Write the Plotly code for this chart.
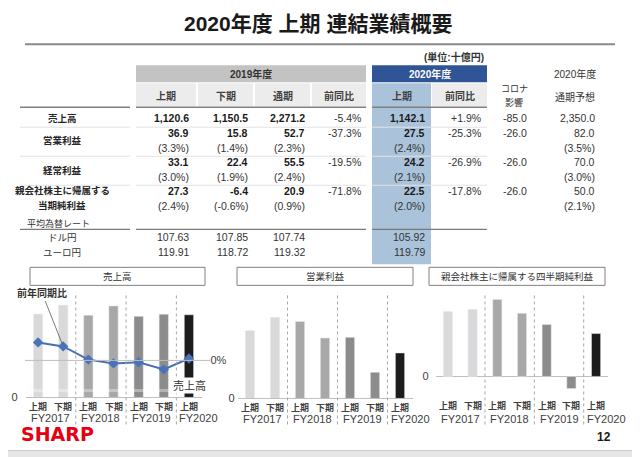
import plotly.graph_objects as go

# ---------------------------------------------------------------
# 表データ (単位: 十億円)
# ---------------------------------------------------------------
items = ["売上高", "営業利益", "経常利益", "親会社株主に帰属する<br>当期純利益"]
h1_2019 = [1120.6, 36.9, 33.1, 27.3]
h2_2019 = [1150.5, 15.8, 22.4, -6.4]
fy_2019 = [2271.2, 52.7, 55.5, 20.9]
yoy_2019 = [-5.4, -37.3, -19.5, -71.8]
h1_2020 = [1142.1, 27.5, 24.2, 22.5]
yoy_2020 = [1.9, -25.3, -26.9, -17.8]
corona = [-85.0, -26.0, -26.0, -26.0]
forecast_2020 = [2350.0, 82.0, 70.0, 50.0]

# 売上高比率 (%)
margin_h1_2019 = [None, 3.3, 3.0, 2.4]
margin_h2_2019 = [None, 1.4, 1.9, -0.6]
margin_fy_2019 = [None, 2.3, 2.4, 0.9]
margin_h1_2020 = [None, 2.4, 2.1, 2.0]
margin_forecast = [None, 3.5, 3.0, 2.1]

# 平均為替レート
fx_labels = ["ドル円", "ユーロ円"]
fx_h1_2019 = [107.63, 119.91]
fx_h2_2019 = [107.85, 118.72]
fx_fy_2019 = [107.74, 119.32]
fx_h1_2020 = [105.92, 119.79]

header_2019 = ["上期", "下期", "通期", "前同比"]
header_2020 = ["上期", "前同比"]

# ---------------------------------------------------------------
# グラフデータ (半期推移)
# ---------------------------------------------------------------
fiscal_years = ["FY2017", "FY2017", "FY2018", "FY2018", "FY2019", "FY2019", "FY2020"]
periods = ["上期", "下期", "上期", "下期", "上期", "下期", "上期"]
sales = [1151.3, 1275.9, 1136.5, 1264.3, 1120.6, 1150.5, 1142.1]
sales_yoy = [18.0, 14.0, 0.8, -3.0, -1.8, -9.0, 1.9]
op_profit = [41.0, 49.0, 46.5, 36.5, 36.9, 15.8, 27.5]
net_profit = [34.1, 35.2, 40.4, 33.1, 27.3, -6.4, 22.5]

# ---------------------------------------------------------------
# ページ余白(8px)と縦方向の縮尺を補正した図のサイズ
OFF = 8
SY = 0.986
W, H = 640 - OFF, 456
JP = "Liberation Sans, Noto Sans CJK JP"
fy_colors = {"FY2017": "#d9d9d9", "FY2018": "#a8a8a8", "FY2019": "#8c8c8c", "FY2020": "#1c1c1c"}


# 画面上のピクセル位置 -> paper 座標
def px(x):
    return (x - OFF) / W


def py(y):
    return 1 - (y / SY - OFF) / H


anns = []
shapes = []


def text(x, y, s, size=10, bold=False, color="#262626", xanchor="center", **kw):
    if bold:
        s = f"<b>{s}</b>"
    anns.append(dict(x=px(x), y=py(y), xref="paper", yref="paper", text=s, showarrow=False,
                     xanchor=xanchor, yanchor="middle",
                     font=dict(size=size, family=JP, color=color), **kw))


def rect(x0, y0, x1, y1, fill, line=None):
    shapes.append(dict(type="rect", xref="paper", yref="paper", x0=px(x0), x1=px(x1),
                       y0=py(y0), y1=py(y1), fillcolor=fill, layer="below",
                       line=dict(width=1 if line else 0, color=line or fill)))


def hline(x0, x1, y, color, width=1, dash="solid"):
    shapes.append(dict(type="line", xref="paper", yref="paper", x0=px(x0), x1=px(x1),
                       y0=py(y), y1=py(y), line=dict(color=color, width=width, dash=dash)))


# スライド背景
rect(2, 2, 637, 450, "white", "#c8c8c8")

# タイトル
text(318, 23, "2020年度 上期 連結業績概要", size=21, bold=True, color="#1a1a1a")
hline(25, 615, 44, "#8a8a8a", 2)
text(454, 57, "(単位:十億円)", size=10, bold=True, color="#333333")

# ---------------------------------------------------------------
# 表: ヘッダー
# ---------------------------------------------------------------
rect(136, 65, 366, 82, "#c3c3c3")
text(251, 74, "2019年度", size=10, bold=True, color="#333333")
sub_cells = [(136, 196), (198, 253), (255, 310), (312, 366)]
for (a, b), h in zip(sub_cells, header_2019):
    rect(a, 83, b, 106, "#ececec")
    text((a + b) / 2, 96, h, size=10, bold=True, color="#404040")

rect(372, 83, 431, 264, "#aac3da")
rect(432, 83, 487, 106, "#ececec")
rect(372, 65, 487, 82, "#2f5597")
text(430, 74, "2020年度", size=10, bold=True, color="white")
for (a, b), h in zip([(372, 431), (432, 487)], header_2020):
    text((a + b) / 2, 96, h, size=10, bold=True, color="#404040")

text(514, 89, "コロナ", size=9, color="#333333")
text(514, 102, "影響", size=9, color="#333333")
text(575, 74, "2020年度", size=10, color="#333333")
text(575, 97, "通期予想", size=10, color="#333333")

for a, b in [(20, 130), (136, 366), (372, 487)]:
    hline(a, b, 107, "#808080", 1.5)

# ---------------------------------------------------------------
# 表: 本体
# ---------------------------------------------------------------
value_y = [118, 133, 162, 191]
margin_y = [None, 148, 177, 206]
label_y = [[118], [140], [170], [190, 205]]
col_right = [191, 250, 307, 363, 427, 483, 529, 597]


def amt(v):
    return f"{v:,.1f}"


def pct(v):
    return f"{v:+.1f}%"


columns = [
    (h1_2019, margin_h1_2019, amt, True),
    (h2_2019, margin_h2_2019, amt, True),
    (fy_2019, margin_fy_2019, amt, True),
    (yoy_2019, None, pct, False),
    (h1_2020, margin_h1_2020, amt, True),
    (yoy_2020, None, pct, False),
    (corona, None, amt, False),
    (forecast_2020, margin_forecast, amt, False),
]

for i, item in enumerate(items):
    for line, ly in zip(item.split("<br>"), label_y[i]):
        text(62, ly, line, size=9.5, bold=True, color="#262626")
    for (vals, margins, f, bold), xr in zip(columns, col_right):
        text(xr, value_y[i], f(vals[i]), size=10.5, bold=bold,
             color="#1a1a1a" if bold else "#333333", xanchor="right")
        if margins is not None and margins[i] is not None:
            text(xr, margin_y[i], f"({margins[i]:.1f}%)", size=10.5, color="#333333", xanchor="right")

for y in [127, 156, 185]:
    for a, b in [(20, 130), (136, 366), (372, 487)]:
        hline(a, b, y, "#e2e2e2", 1)

# 為替レート
text(58, 223, "平均為替レート", size=9, color="#333333")
for a, b in [(20, 130), (136, 366), (372, 487)]:
    hline(a, b, 229, "#7a7a7a", 1.2)
fx_y = [237, 252]
for j, lab in enumerate(fx_labels):
    text(62, fx_y[j], lab, size=9.5, color="#333333")
    for vals, xr in zip([fx_h1_2019, fx_h2_2019, fx_fy_2019, fx_h1_2020], [191, 250, 307, 427]):
        text(xr, fx_y[j], f"{vals[j]:.2f}", size=10.5, color="#333333", xanchor="right")

# ---------------------------------------------------------------
# グラフ
# ---------------------------------------------------------------
cats = [f"{fy} {p}" for fy, p in zip(fiscal_years, periods)]
bar_colors = [fy_colors[fy] for fy in fiscal_years]

fig = go.Figure()
fig.add_trace(go.Bar(x=cats, y=sales, marker_color=bar_colors, xaxis="x", yaxis="y"))
fig.add_trace(go.Scatter(x=cats, y=sales_yoy, xaxis="x", yaxis="y2", mode="lines+markers",
                         line=dict(color="#4a6fb5", width=2),
                         marker=dict(symbol="diamond", size=8, color="#4a72b8")))
fig.add_trace(go.Bar(x=cats, y=op_profit, marker_color=bar_colors, xaxis="x2", yaxis="y3"))
fig.add_trace(go.Bar(x=cats, y=net_profit, marker_color=bar_colors, xaxis="x3", yaxis="y4"))

panels = [
    # xaxis, period label y, FY label y, title, box
    ("x", 406, 418, "売上高", (30, 205)),
    ("x2", 407, 419, "営業利益", (237, 413)),
    ("x3", 405, 419, "親会社株主に帰属する四半期純利益", (429, 605)),
]

for xa, ply, fyy, title, (b0, b1) in panels:
    # タイトル枠
    rect(b0, 267, b1, 285, "white", "#808080")
    text((b0 + b1) / 2, 276, title, size=9.5, color="#333333")
    # 年度区切り (点線)
    for k in [1.5, 3.5, 5.5]:
        shapes.append(dict(type="line", xref=xa, yref="paper", x0=k, x1=k,
                           y0=py(424), y1=py(292),
                           line=dict(color="#a6a6a6", width=1, dash="dot")))
    for c, p in zip(cats, periods):
        anns.append(dict(x=c, y=py(ply), xref=xa, yref="paper", text=f"<b>{p}</b>",
                         showarrow=False, xanchor="center", yanchor="middle",
                         font=dict(size=9, family=JP, color="#404040")))
    groups = []
    for c, fy in zip(cats, fiscal_years):
        if fy not in [g[1] for g in groups]:
            groups.append((c, fy, fiscal_years.count(fy)))
    for c, fy, n in groups:
        anns.append(dict(x=c, y=py(fyy), xref=xa, yref="paper", text=fy, showarrow=False,
                         xanchor="center", yanchor="middle",
                         xshift=12.5 if n == 2 else 10,
                         font=dict(size=11, family=JP, color="#404040")))

# 売上高グラフの補助要素
shapes.append(dict(type="line", xref="paper", yref="y2", x0=px(25), x1=px(210), y0=0, y1=0,
                   line=dict(color="#bdbdbd", width=1)))
hline(25.5, 201.5, 390, "rgba(255,255,255,0.35)", 3)
anns.append(dict(x=cats[1], y=sales_yoy[1], xref="x", yref="y2", text="<b>前年同期比</b>",
                 showarrow=True, arrowhead=0, arrowwidth=0.8, arrowcolor="#595959",
                 ax=-21, ay=-53, standoff=3,
                 font=dict(size=10, family=JP, color="#333333")))
anns.append(dict(x=cats[6], y=py(385), xref="x", yref="paper", text="売上高", showarrow=False,
                 xanchor="center", yanchor="middle", bgcolor="white", borderpad=1, xshift=1,
                 font=dict(size=11, family=JP, color="#333333")))

# ロゴとページ番号
anns.append(dict(x=px(57), y=py(434), xref="paper", yref="paper", text="<b>SHARP</b>",
                 showarrow=False, xanchor="center", yanchor="middle",
                 font=dict(size=19, family="DejaVu Sans", color="#e60012")))
text(604, 437, "12", size=12, bold=True, color="#1a1a1a")

axis_common = dict(showgrid=False, zeroline=False, fixedrange=True)
tick_font = dict(size=11, family="Liberation Sans", color="#404040")
cat_range = [-0.5, len(cats) - 0.5]

fig.update_layout(
    width=W, height=H, autosize=False,
    margin=dict(l=0, r=0, t=0, b=0),
    paper_bgcolor="#e6e6e6", plot_bgcolor="rgba(0,0,0,0)",
    showlegend=False, bargap=0.63,
    xaxis=dict(domain=[px(25.5), px(201.5)], anchor="y", type="category", range=cat_range,
               showticklabels=False, ticks="", showline=True, linecolor="#bfbfbf", **axis_common),
    yaxis=dict(domain=[py(397), py(292)], range=[0, 1452], tickvals=[0], ticktext=["0"],
               tickfont=tick_font, ticks="", ticklabelstandoff=7, **axis_common),
    yaxis2=dict(domain=[py(397), py(292)], overlaying="y", side="right", anchor="x",
                range=[-37, 68], tickvals=[0], ticktext=["0%"], tickfont=tick_font,
                ticks="", ticklabelstandoff=8, **axis_common),
    xaxis2=dict(domain=[px(237.5), px(412.5)], anchor="y3", type="category", range=cat_range,
                showticklabels=False, ticks="", showline=True, linecolor="#bfbfbf", **axis_common),
    yaxis3=dict(domain=[py(398), py(292)], anchor="x2", range=[0, 64.1], tickvals=[0],
                ticktext=["0"], tickfont=tick_font, ticks="", ticklabelstandoff=2, **axis_common),
    xaxis3=dict(domain=[px(435.6), px(608.4)], anchor="y4", type="category", range=cat_range,
                showticklabels=False, ticks="", showline=False, **axis_common),
    yaxis4=dict(domain=[py(392), py(292)], anchor="x3", range=[-8.4, 44.1], tickvals=[0],
                ticktext=["0"], tickfont=tick_font, ticks="", ticklabelstandoff=6,
                showgrid=False, zeroline=True, zerolinecolor="#bfbfbf", zerolinewidth=1,
                fixedrange=True),
    shapes=shapes,
    annotations=anns,
)

fig.write_html("out.html")
